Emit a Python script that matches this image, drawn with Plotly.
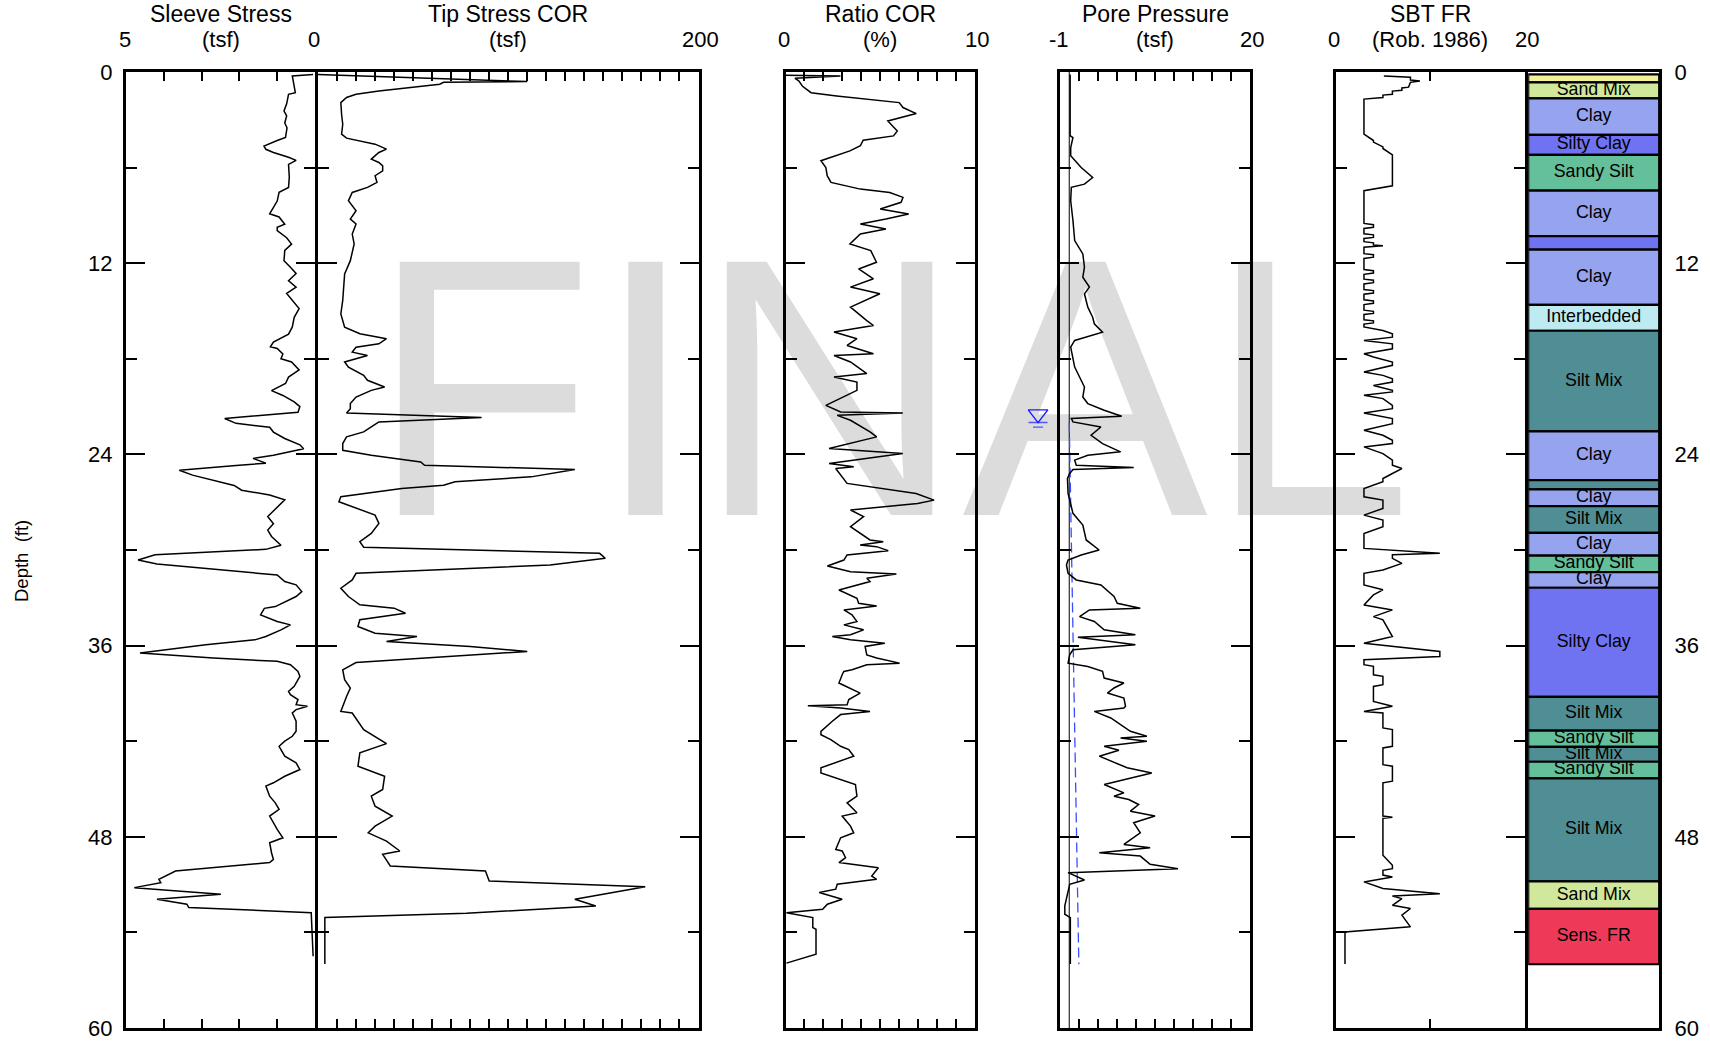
import plotly.graph_objects as go

# ---------------------------------------------------------------- data
sleeve_depth = [0.15, 0.25, 1.3, 1.4, 2.0, 2.45, 2.75, 3.2, 3.5, 4.1, 4.3, 4.65, 4.85, 5.05, 5.35, 5.55, 5.8, 6.6, 7.25, 7.55,
                8.1, 8.9, 9.1, 9.55, 9.75, 9.95, 10.4, 10.8, 11.2, 11.85, 12.25, 12.65, 13.1, 13.5, 13.9, 14.35, 14.85, 15.4, 16.0, 16.45,
                16.95, 17.25, 17.35, 17.7, 18.0, 18.2, 18.7, 19.15, 19.55, 20.0, 20.3, 20.7, 21.0, 21.35, 21.75, 22.05, 22.3, 22.6, 23.0, 23.4,
                23.65, 23.85, 24.05, 24.25, 24.55, 24.7, 25.0, 25.3, 25.6, 25.95, 26.25, 26.55, 26.85, 27.4, 27.9, 28.35, 28.75, 29.15, 29.7, 29.96,
                30.3, 30.63, 30.88, 31.57, 31.98, 32.19, 32.61, 32.92, 33.24, 33.55, 33.66, 34.07, 34.49, 34.7, 35.01, 35.43, 35.64, 35.95, 36.47, 36.78,
                36.99, 37.2, 37.62, 37.93, 38.56, 38.87, 39.08, 39.39, 39.71, 39.81, 40.02, 40.23, 40.75, 41.38, 41.69, 42.0, 42.32, 42.94, 43.36, 43.78,
                44.2, 44.61, 44.82, 45.45, 45.87, 46.28, 46.7, 47.12, 47.54, 48.06, 48.37, 49.0, 49.42, 49.62, 50.15, 50.67, 50.88, 51.19, 51.61, 51.92,
                52.23, 52.44, 52.76, 55.5]
sleeve_fs = [0.05, 0.6, 0.52, 0.70, 0.75, 0.82, 0.75, 0.80, 0.74, 0.78, 1.0, 1.35, 1.3, 1.1, 0.70, 0.50, 0.70, 0.68, 0.70, 0.95,
             1.0, 1.2, 0.95, 0.80, 1.0, 1.0, 0.75, 0.62, 0.80, 0.82, 0.65, 0.50, 0.70, 0.50, 0.75, 0.60, 0.42, 0.55, 0.60, 0.70,
             1.1, 1.18, 1.0, 0.85, 0.9, 0.62, 0.42, 0.70, 0.78, 1.15, 0.85, 0.55, 0.40, 0.45, 2.39, 2.09, 1.2, 1.1, 0.8, 0.4,
             0.3, 0.7, 1.1, 1.64, 1.3, 2.09, 3.59, 3.24, 2.74, 2.14, 1.94, 1.2, 0.8, 1.05, 1.25, 1.1, 1.25, 1.15, 0.9, 1.3,
             4.23, 4.68, 4.18, 1.0, 0.8, 0.5, 0.35, 0.5, 0.8, 1.05, 1.34, 1.44, 1.0, 0.65, 0.9, 1.3, 1.59, 2.89, 4.63, 2.69,
             1.0, 0.65, 0.45, 0.4, 0.55, 0.7, 0.65, 0.45, 0.5, 0.2, 0.5, 0.6, 0.5, 0.5, 0.6, 0.8, 0.95, 0.8, 0.5, 0.4,
             0.8, 1.1, 1.3, 1.2, 1.05, 0.95, 1.2, 1.1, 1.0, 0.85, 1.2, 1.15, 1.1, 1.2, 3.69, 4.13, 4.08, 4.78, 2.49, 4.18,
             3.39, 3.34, 0.1, 0.05]

tip_depth = [0.15, 0.6, 0.65, 0.77, 1.19, 1.4, 1.6, 1.92, 2.65, 3.28, 3.9, 4.15, 4.53, 4.84, 5.05, 5.47, 5.68, 5.89, 6.2, 6.51,
             6.93, 7.24, 7.56, 8.08, 8.71, 9.23, 9.54, 10.17, 10.79, 11.84, 12.67, 13.5, 14.34, 15.18, 16.01, 16.43, 16.74, 17.06, 17.27, 17.58,
             17.79, 18.2, 18.52, 19.04, 19.35, 19.77, 19.98, 20.4, 20.81, 21.13, 21.4, 21.69, 21.96, 22.28, 22.59, 22.9, 23.32, 23.74, 24.05, 24.47,
             24.68, 24.95, 25.41, 25.72, 25.93, 26.14, 26.66, 26.97, 27.39, 27.81, 28.33, 28.96, 29.48, 29.83, 30.21, 30.52, 30.94, 31.46, 31.88, 32.4,
             32.92, 33.44, 33.65, 33.97, 34.38, 34.8, 35.22, 35.43, 35.74, 36.05, 36.37, 37.06, 37.52, 38.14, 38.66, 39.19, 40.13, 40.23, 41.27, 42.15,
             42.73, 43.57, 44.2, 45.03, 45.45, 46.08, 46.7, 47.33, 47.75, 48.27, 48.89, 49.1, 49.83, 50.15, 50.77, 51.13, 51.92, 52.34, 52.8, 53.07,
             55.99]
tip_qc = [0, 110, 66, 64, 32, 20, 15, 12, 12.4, 13, 12.4, 15, 30, 36, 32, 28, 32, 34, 34, 30,
          31, 26, 18, 16, 20, 17, 20, 18, 19, 17, 14, 13.6, 13, 12, 14, 22, 36, 32, 20, 18,
          26, 14, 16, 24, 26, 35, 28, 20, 17, 17, 15, 86, 32, 28, 24, 15, 13, 13, 28, 54,
          56, 135, 112, 72, 66, 44, 12, 11, 20, 30, 32, 28, 22, 24, 148, 151, 122, 20, 18, 12,
          16, 22, 40, 46, 22, 21, 30, 52, 36, 80, 110, 20, 13, 14, 17, 15, 12, 18, 24, 36,
          22, 21, 35, 34, 28, 30, 39, 30, 26.4, 36, 43, 34, 38, 88, 90, 172, 135, 146, 78, 3.6,
          3.6]

ratio_depth = [0.2, 0.25, 0.4, 0.55, 0.9, 1.3, 1.5, 1.71, 1.92, 2.23, 2.61, 3.07, 3.7, 4.01, 4.28, 4.63, 4.95, 5.57, 6.0, 6.51,
               6.93, 7.35, 7.56, 7.87, 8.18, 8.6, 8.91, 9.23, 9.54, 9.85, 10.17, 10.79, 11.21, 11.94, 12.36, 12.98, 13.5, 13.92, 14.76, 15.6,
               15.91, 16.32, 16.74, 17.16, 17.68, 17.79, 18.2, 18.93, 19.14, 19.46, 19.98, 20.92, 21.34, 21.4, 21.55, 21.86, 22.59, 22.9, 23.63, 23.95,
               24.57, 24.78, 24.89, 25.82, 26.14, 26.45, 26.87, 27.08, 27.49, 27.91, 28.54, 29.37, 29.48, 29.69, 29.79, 30.04, 30.31, 30.63, 31.0, 31.36,
               31.5, 31.77, 31.98, 32.3, 32.51, 33.03, 33.34, 33.51, 33.76, 34.07, 34.49, 34.7, 35.01, 35.32, 35.43, 35.64, 35.85, 36.05, 36.58, 36.78,
               37.1, 37.2, 37.52, 37.62, 37.83, 38.35, 38.98, 39.39, 39.71, 39.77, 39.92, 40.13, 40.33, 40.75, 41.38, 41.59, 41.9, 42.32, 42.53, 42.94,
               43.67, 43.99, 44.41, 44.72, 45.45, 45.87, 46.49, 46.7, 47.33, 47.75, 48.06, 48.79, 48.89, 49.31, 49.62, 49.94, 50.46, 50.67, 50.98, 51.29,
               51.5, 51.92, 52.23, 52.55, 52.76, 53.07, 53.7, 53.8, 55.37, 55.93]
ratio_rf = [0, 2.9, 0.5, 0.7, 0.9, 1.35, 2.7, 4.5, 6.0, 6.2, 6.9, 5.4, 5.9, 5.7, 4.1, 3.95, 3.4, 1.87, 2.13, 2.2,
            2.4, 3.95, 5.5, 6.2, 6.1, 5.0, 6.5, 5.3, 3.95, 5.3, 3.95, 3.4, 4.5, 4.8, 3.86, 4.64, 3.43, 4.98, 3.43, 4.29,
            4.64, 2.56, 3.77, 3.25, 4.64, 2.56, 3.43, 4.29, 2.56, 3.77, 3.77, 2.13, 2.91, 6.19, 2.73, 3.43, 4.46, 4.81, 2.3, 6.19,
            2.3, 3.6, 2.65, 3.25, 4.98, 6.89, 7.84, 6.97, 3.43, 4.12, 3.43, 4.46, 5.16, 3.94, 4.81, 5.42, 3.25, 3.08, 2.21, 3.43,
            5.85, 4.29, 4.46, 3.43, 2.82, 3.77, 3.86, 4.81, 3.08, 3.51, 3.77, 3.08, 4.12, 3.43, 2.47, 3.43, 5.24, 4.2, 4.29, 4.81,
            6.02, 4.29, 3.51, 3.08, 2.99, 2.82, 3.94, 3.34, 3.25, 1.18, 2.91, 4.46, 2.91, 2.47, 1.87, 1.87, 2.39, 2.91, 3.34, 3.6,
            1.87, 1.87, 2.91, 3.69, 3.77, 3.25, 3.77, 2.99, 3.43, 3.6, 2.91, 2.65, 2.99, 3.17, 2.82, 4.9, 4.55, 4.81, 2.73, 2.65,
            1.78, 2.99, 2.21, 1.96, 0.05, 1.44, 1.44, 1.61, 1.61, 0.05]

pore_depth = [0.15, 4.0, 4.11, 4.74, 5.26, 5.99, 6.62, 7.04, 7.24, 8.08, 9.33, 10.58, 11.42, 12.25, 12.88, 13.5, 13.92, 14.76, 15.39, 15.8,
              16.33, 16.53, 16.85, 17.27, 17.89, 18.52, 19.14, 19.77, 20.4, 20.81, 21.23, 21.61, 21.75, 21.96, 22.28, 22.8, 23.32, 23.84, 24.05, 24.36,
              24.68, 24.82, 24.95, 25.2, 25.51, 26.45, 27.7, 28.43, 29.37, 30.0, 30.31, 30.63, 30.94, 31.46, 31.88, 32.19, 32.92, 33.34, 33.65, 33.76,
              34.18, 34.49, 35.01, 35.32, 35.47, 35.95, 36.26, 36.58, 37.1, 37.31, 37.62, 38.04, 38.35, 38.66, 38.98, 39.29, 39.81, 39.92, 40.13, 40.54,
              41.38, 41.69, 41.8, 42.0, 42.32, 42.57, 42.94, 43.67, 43.99, 44.72, 45.24, 45.45, 45.66, 45.97, 46.39, 46.7, 47.12, 47.75, 48.48, 48.69,
              49.0, 49.21, 49.73, 50.0, 50.25, 50.71, 50.98, 52.34, 52.86, 53.07, 55.99]
pore_u = [0.1, 0.1, 0.41, 0.16, 0.16, 1.32, 2.59, 1.68, 0.23, 0.16, 0.41, 0.6, 1.5, 1.68, 1.5, 2.23, 1.68, 2.05, 2.59, 2.77,
          3.68, 2.41, 0.6, 0.16, 0.41, 0.6, 1.14, 1.68, 1.5, 2.05, 3.86, 5.8, 0.23, 0.41, 3.5, 2.41, 3.68, 5.67, 2.05, 0.6,
          0.78, 7.12, 0.41, 0.05, -0.2, -0.13, 0.41, 1.5, 1.87, 3.3, 1.32, -0.13, -0.31, -0.13, 0.78, 3.5, 4.95, 5.31, 7.85, 2.23,
          1.14, 2.77, 3.86, 7.31, 0.96, 7.31, 0.41, 0.05, -0.13, 2.05, 3.68, 3.86, 6.04, 4.95, 4.22, 6.04, 6.22, 6.04, 2.77, 4.59,
          6.76, 8.58, 5.67, 8.58, 3.86, 5.49, 3.32, 6.4, 9.12, 3.86, 6.04, 4.95, 6.58, 7.67, 6.76, 9.48, 7.12, 7.85, 6.04, 8.94,
          3.32, 7.85, 8.94, 12.02, -0.13, 1.68, 0.05, -0.49, -0.49, 0.12, 0.12]

hydro_depth = [22.0, 56.0]
hydro_u = [0.0, 1.06]
water_table_depth = 22.0
water_marker_u = -3.45

sbt_depth = [0.25, 0.33, 0.5, 0.56, 0.65, 0.95, 1.0, 1.15, 1.2, 1.4, 1.45, 1.6, 1.7, 3.9, 4.3, 4.4, 4.7, 4.8, 5.2, 7.14,
             7.45, 9.5, 9.58, 9.75, 9.82, 10.15, 10.22, 10.38, 10.45, 10.65, 10.72, 10.85, 10.9, 11.0, 11.4, 11.47, 11.62, 11.7, 12.4, 12.47,
             12.62, 12.7, 13.0, 13.07, 13.22, 13.3, 13.65, 13.72, 13.87, 13.95, 14.3, 14.37, 14.52, 14.6, 14.95, 15.02, 15.15, 15.22, 15.55, 15.62,
             15.75, 15.82, 16.0, 16.22, 16.43, 16.64, 16.85, 17.06, 17.37, 17.68, 17.89, 18.2, 18.41, 18.83, 19.04, 19.25,
             19.46, 19.67, 19.98, 20.08, 20.29, 20.5, 20.92, 21.13, 21.4, 21.75, 22.07, 22.48, 22.8, 23.11, 23.32, 23.53, 23.95, 24.36, 24.68, 24.89,
             25.2, 25.51, 25.72, 26.14, 26.66, 26.87, 27.39, 27.81, 28.12, 28.54, 28.96, 29.9, 30.2, 30.3, 30.52, 30.84, 31.26, 31.46, 32.19, 32.5,
             32.82, 33.45, 33.76, 34.18, 34.38, 35.43, 35.85, 36.37, 36.68, 36.89, 37.2, 37.3, 37.83, 37.93, 38.45, 38.56, 39.5, 39.81, 40.13, 40.23,
             41.17, 41.27, 42.32, 42.42, 43.47, 43.57, 44.51, 44.61, 46.7, 46.77, 46.84, 49.16, 49.79, 50.0, 50.1, 50.4, 50.52, 50.62, 50.83, 51.25,
             51.57, 51.71, 51.88, 52.3, 52.5, 52.92, 53.65, 53.97, 55.99]
sbt_zone = [5.1, 7.9, 7.9, 8.9, 7.9, 7.7, 7.0, 7.0, 6.0, 6.0, 5.0, 5.0, 3.0, 3.0, 4.0, 4.0, 5.0, 5.0, 6.0, 6.0,
            3.0, 3, 4, 4, 3, 3, 4, 4, 3, 3, 4, 4, 5, 3, 3, 4, 4, 3, 3, 4,
            4, 3, 3, 4, 4, 3, 3, 4, 4, 3, 3, 4, 4, 3, 3, 4, 4, 3, 3, 4,
            4, 3, 3, 5, 6, 6, 3, 6, 6, 3, 4, 6, 6, 3, 5, 6,
            6, 4, 6, 6, 3, 5, 6, 6, 3, 6, 6, 3, 5, 6, 6, 3, 5, 6, 6, 7,
            6, 5, 5, 3, 3, 5, 5, 3, 5, 5, 3, 3, 11, 6, 6, 7, 5, 3, 3, 5,
            4, 3, 6, 4, 5, 6, 3, 11, 11, 3, 3, 4, 4, 5, 5, 4, 4, 6, 3, 5,
            5, 6, 6, 5, 5, 6, 6, 5, 5, 6, 5, 5, 6, 6, 5, 5, 6, 5, 3, 5,
            11, 6, 7, 6, 7.9, 7, 7.9, 1, 1]

layer_top = [0.15, 0.65, 1.65, 3.95, 5.2, 7.45, 10.3, 11.15, 14.62, 16.24, 22.56, 25.62, 26.19, 27.25, 28.93,
             30.35, 31.39, 32.37, 39.22, 41.34, 42.35, 43.29, 44.33, 50.8, 52.52]
layer_bottom = [0.65, 1.65, 3.95, 5.2, 7.45, 10.3, 11.15, 14.62, 16.24, 22.56, 25.62, 26.19, 27.25, 28.93, 30.35,
                31.39, 32.37, 39.22, 41.34, 42.35, 43.29, 44.33, 50.8, 52.52, 56.0]
layer_type = ["Sand", "Sand Mix", "Clay", "Silty Clay", "Sandy Silt", "Clay", "Silty Clay", "Clay", "Interbedded", "Silt Mix",
              "Clay", "Silt Mix", "Clay", "Silt Mix", "Clay", "Sandy Silt", "Clay", "Silty Clay", "Silt Mix", "Sandy Silt",
              "Silt Mix", "Sandy Silt", "Silt Mix", "Sand Mix", "Sens. FR"]
layer_label = ["", "Sand Mix", "Clay", "Silty Clay", "Sandy Silt", "Clay", "", "Clay", "Interbedded", "Silt Mix",
               "Clay", "", "Clay", "Silt Mix", "Clay", "Sandy Silt", "Clay", "Silty Clay", "Silt Mix", "Sandy Silt",
               "Silt Mix", "Sandy Silt", "Silt Mix", "Sand Mix", "Sens. FR"]
soil_colors = {"Sand": "#f1f19a", "Sand Mix": "#d1e79b", "Clay": "#96a3ee", "Silty Clay": "#6f73f1",
               "Sandy Silt": "#64bf9b", "Silt Mix": "#508e96", "Interbedded": "#beebf1", "Sens. FR": "#ee3a58"}

depth_ticks = [0, 12, 24, 36, 48, 60]
depth_minor = [6, 18, 30, 42, 54]

titles = ["Sleeve Stress", "Tip Stress COR", "Ratio COR", "Pore Pressure", "SBT FR"]
scale_left = ["5", "0", "0", "-1", "0"]
scale_unit = ["(tsf)", "(tsf)", "(%)", "(tsf)", "(Rob. 1986)"]
scale_right = ["", "200", "10", "20", "20"]

# ---------------------------------------------------------------- layout geometry (pixels)
W, H = 1710, 1044
FONT = "Liberation Sans, Arial, Helvetica, sans-serif"
Y0, Y1 = 72, 1028
ydom = [1 - Y1 / H, 1 - Y0 / H]
# name, left px, right px, range, top/bottom tick values
panels = [
    ("sleeve", 126, 315, [5, 0], [1, 2, 3, 4]),
    ("tip", 318, 698.5, [0, 200], list(range(10, 200, 10))),
    ("ratio", 785.5, 975, [0, 10], list(range(1, 10))),
    ("pore", 1060.2, 1250.2, [-1, 20], [-1 + 2.1 * k for k in range(1, 10)]),
    ("sbt", 1335.5, 1525.2, [0, 20], [10]),
    ("soil", 1528.2, 1659.2, [0, 1], []),
]

fig = go.Figure()
layout = dict(
    width=W, height=H, autosize=False,
    margin=dict(l=0, r=0, t=0, b=0, pad=0, autoexpand=False),
    paper_bgcolor="white", plot_bgcolor="rgba(0,0,0,0)",
    showlegend=False, font=dict(family=FONT, color="black"),
    xaxis=dict(domain=[0, 1], range=[0, W], visible=False, fixedrange=True, automargin=False),
    yaxis=dict(domain=[0, 1], range=[H, 0], visible=False, fixedrange=True, automargin=False),
)

axis_ids = {}
for i, (name, l, r, rng, tv) in enumerate(panels):
    n = i + 2
    axis_ids[name] = ("x%d" % n, "y%d" % n)
    xa = dict(domain=[l / W, r / W], range=rng, anchor="y%d" % n, showline=True, linewidth=3,
              linecolor="black", mirror="ticks", ticks="inside" if tv else "", tickvals=tv,
              ticklen=9, tickwidth=2, tickcolor="black", showticklabels=False, showgrid=False,
              zeroline=False, fixedrange=True, automargin=False)
    ya = dict(domain=ydom, range=[60, 0], anchor="x%d" % n, showline=True, linewidth=3,
              linecolor="black", mirror="ticks", ticks="inside", tickvals=depth_ticks,
              ticktext=[str(v) for v in depth_ticks], ticklen=19, tickwidth=2, tickcolor="black",
              showgrid=False, zeroline=False, showticklabels=False, fixedrange=True, automargin=False,
              tickfont=dict(size=22, family=FONT, color="black"),
              minor=dict(tickvals=depth_minor, ticks="inside", ticklen=11, tickwidth=2, tickcolor="black"))
    if name == "sleeve":
        ya.update(showticklabels=True, side="left", ticklabelstandoff=6)
    if name == "soil":
        ya.update(showticklabels=True, side="right", ticks="", mirror=True, ticklabelstandoff=8,
                  minor=dict(ticks=""))
    layout["xaxis%d" % n] = xa
    layout["yaxis%d" % n] = ya

# hidden companion x axis for the pore panel, same scale but extended to the left,
# so the water-table symbol (left of the panel) is drawn through the pore scale
p_l, p_r, p_rng = panels[3][1], panels[3][2], panels[3][3]
ext_l = 1015
u_per_px = (p_rng[1] - p_rng[0]) / (p_r - p_l)
layout["xaxis8"] = dict(domain=[ext_l / W, p_r / W], range=[p_rng[0] - (p_l - ext_l) * u_per_px, p_rng[1]],
                        anchor="y5", visible=False, fixedrange=True, automargin=False)

# watermark (first subplot so it sits underneath everything)
fig.add_trace(go.Scatter(x=[891], y=[423], mode="text", text=["FINAL"], xaxis="x", yaxis="y",
                         textfont=dict(size=368, color="#dcdcdc", family=FONT), hoverinfo="skip"))

line_style = dict(color="black", width=1.5)
xs, ys = axis_ids["sleeve"]
fig.add_trace(go.Scatter(x=sleeve_fs, y=sleeve_depth, mode="lines", line=line_style, xaxis=xs, yaxis=ys))
xs, ys = axis_ids["tip"]
fig.add_trace(go.Scatter(x=tip_qc, y=tip_depth, mode="lines", line=line_style, xaxis=xs, yaxis=ys))
xs, ys = axis_ids["ratio"]
fig.add_trace(go.Scatter(x=ratio_rf, y=ratio_depth, mode="lines", line=line_style, xaxis=xs, yaxis=ys))
xs, ys = axis_ids["pore"]
fig.add_trace(go.Scatter(x=[0, 0], y=[0, 60], mode="lines", line=dict(color="black", width=1),
                         xaxis=xs, yaxis=ys))
fig.add_trace(go.Scatter(x=hydro_u, y=hydro_depth, mode="lines",
                         line=dict(color="#3b4cff", width=1.3, dash="10px,5px"), xaxis=xs, yaxis=ys))
fig.add_trace(go.Scatter(x=pore_u, y=pore_depth, mode="lines", line=line_style, xaxis=xs, yaxis=ys))
# water table symbol
blue = "#1a1aff"
fig.add_trace(go.Scatter(x=[water_marker_u], y=[water_table_depth - 0.53], mode="markers",
                         marker=dict(symbol="triangle-down-open", size=17, color=blue,
                                     line=dict(color=blue, width=1.4)), xaxis="x8", yaxis="y5"))
fig.add_trace(go.Scatter(x=[water_marker_u, water_marker_u], y=[water_table_depth, water_table_depth + 0.29],
                         mode="markers",
                         marker=dict(symbol="line-ew-open", size=[13.6, 7.2], color=blue,
                                     line=dict(color=blue, width=1.4)), xaxis="x8", yaxis="y5"))
xs, ys = axis_ids["sbt"]
fig.add_trace(go.Scatter(x=sbt_zone, y=sbt_depth, mode="lines", line=line_style, xaxis=xs, yaxis=ys))

xs, ys = axis_ids["soil"]
thick = [b - t for t, b in zip(layer_top, layer_bottom)]
fig.add_trace(go.Bar(x=[0.5] * len(thick), y=thick, base=layer_top, width=1,
                     marker=dict(color=[soil_colors[t] for t in layer_type], line=dict(color="black", width=2.2)),
                     xaxis=xs, yaxis=ys, hoverinfo="skip"))
mids = [(t + b) / 2 for t, b in zip(layer_top, layer_bottom)]
fig.add_trace(go.Scatter(x=[0.5] * len(mids), y=mids, mode="text", text=layer_label, cliponaxis=False,
                         textfont=dict(size=17.8, family=FONT, color="black"), xaxis=xs, yaxis=ys,
                         hoverinfo="skip"))

# ---------------------------------------------------------------- annotations
ann = []
def A(text, xpx, ypx, size, **kw):
    d = dict(text=text, x=xpx / W, y=1 - ypx / H, xref="paper", yref="paper", showarrow=False,
             xanchor="center", yanchor="middle", font=dict(size=size, family=FONT, color="black"))
    d.update(kw)
    ann.append(d)

for i, (name, l, r, rng, tv) in enumerate(panels[:5]):
    c = (l + r) / 2
    A(titles[i], c, 14, 23)
    A(scale_unit[i], c, 40, 22)
    lx = 314 if name == "tip" else l - 1.5
    A(scale_left[i], lx, 40, 22)
    if scale_right[i]:
        A(scale_right[i], r + 1.5, 40, 22)
A("Depth  (ft)", 21, 561, 18.5, textangle=-90)
layout["annotations"] = ann
fig.update_layout(**layout)

fig.write_html("out.html", config={"displayModeBar": False},
               post_script="document.body.style.margin='0';document.body.style.overflow='hidden';")
